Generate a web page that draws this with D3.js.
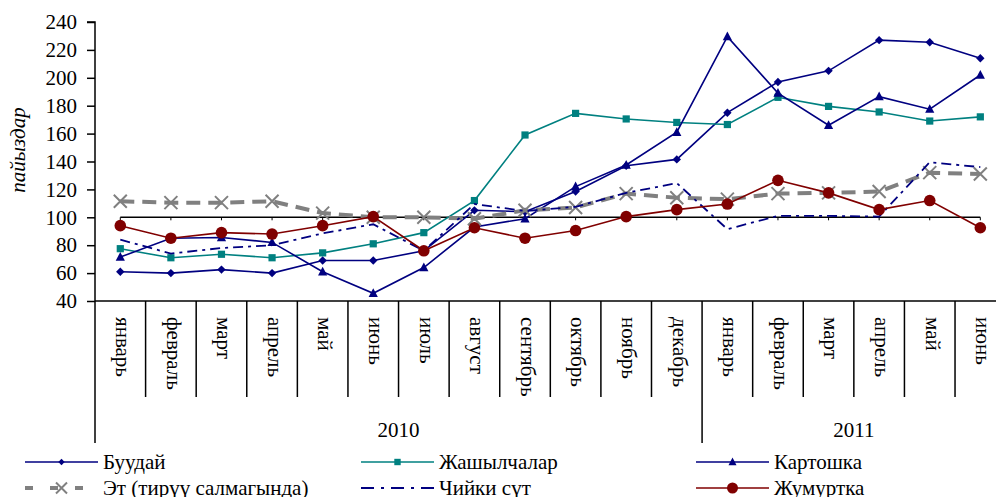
<!DOCTYPE html>
<html><head><meta charset="utf-8">
<script src="https://cdn.jsdelivr.net/npm/d3@7"></script>
<style>
html,body{margin:0;padding:0;background:#fff;}
svg{display:block;}
</style></head>
<body><svg id="c" width="996" height="497"></svg>
<script>
const months = ["январь","февраль","март","апрель","май","июнь","июль","август","сентябрь","октябрь","ноябрь","декабрь","январь","февраль","март","апрель","май","июнь"];
const years = [{label:"2010", from:0, to:12},{label:"2011", from:12, to:18}];
const yTicks = [40,60,80,100,120,140,160,180,200,220,240];

const buudai    = [61, 60, 62.5, 60, 69, 69, 76, 105, 104, 118.5, 137, 141.5, 175, 197, 205, 227, 225.5, 214];
const jashyl    = [77.5, 71, 73.5, 71, 74.5, 81, 89, 112, 159, 174.5, 170.5, 168, 166.5, 186, 179.5, 175.5, 169, 172];
const kartoshka = [71.5, 85, 85.5, 82, 61, 45.5, 64, 93, 99, 122, 137.5, 161, 229.5, 189, 166, 186.5, 177.5, 202];
const et        = [111.5, 110.5, 110.5, 111.5, 103, 100, 100, 99, 105, 107, 117, 114, 113, 117, 117.5, 118.5, 132, 131];
const chiyki    = [84, 74, 78, 80, 88.5, 95, 76, 109.5, 104.5, 107.5, 117.5, 124.5, 91.5, 101, 101, 100.5, 139.5, 136];
const jumurtka  = [94, 85, 89, 88, 94, 100.5, 76, 92.5, 85, 90.5, 100.5, 105.5, 109.5, 126.5, 117.5, 105.5, 112, 92.5];
const baseline  = 100;

const series = [
  {name:"Буудай", values:buudai, color:"#000080", width:1.6, dash:null, marker:"diamond"},
  {name:"Жашылчалар", values:jashyl, color:"#008080", width:1.6, dash:null, marker:"square"},
  {name:"Картошка", values:kartoshka, color:"#000080", width:1.6, dash:null, marker:"triangle"},
  {name:"Эт (тирүү салмагында)", values:et, color:"#808080", width:4, dash:"14,8", marker:"x"},
  {name:"Чийки сүт", values:chiyki, color:"#000080", width:1.8, dash:"10,5,3,5", marker:null},
  {name:"Жумуртка", values:jumurtka, color:"#800000", width:1.6, dash:null, marker:"circle"}
];

const FAM = "serif";
const svg = d3.select("#c");
function txt(sel){ return sel.style("font-family", FAM).style("font-size","21px"); }
const plotLeft = 95, plotTop = 22, plotBottom = 301, band = 50.59;
const x = d3.scaleBand().domain(d3.range(months.length)).range([plotLeft, plotLeft + band*months.length]).padding(0);
const y = d3.scaleLinear().domain([40,240]).range([plotBottom, plotTop]);
const cx = i => x(i) + x.bandwidth()/2;

// y axis
const ya = svg.append("g").attr("transform",`translate(${plotLeft},0)`)
  .call(d3.axisLeft(y).tickValues(yTicks).tickSize(8).tickPadding(10).tickFormat(d3.format("d")));
ya.attr("font-family",null).attr("font-size",null);
ya.select(".domain").attr("stroke","#000").attr("stroke-width",1.5).attr("d",`M-8,${plotTop}H0V${plotBottom}`);
ya.selectAll(".tick line").attr("stroke","#000").attr("stroke-width",1.5);
txt(ya.selectAll(".tick text")).attr("fill","#000");

// y label
txt(svg.append("text").attr("transform","translate(25,150) rotate(-90)"))
  .attr("text-anchor","middle").style("font-style","italic").text("пайыздар");

// bottom axis line
svg.append("line").attr("x1",plotLeft).attr("x2",996).attr("y1",plotBottom).attr("y2",plotBottom)
  .attr("stroke","#000").attr("stroke-width",1.5);

// category separators
const yearBounds = new Set(years.map(d=>d.from).concat([months.length]));
d3.range(months.length+1).forEach(i=>{
  const xx = i < months.length ? x(i) : x(months.length-1)+x.bandwidth();
  svg.append("line").attr("x1",xx).attr("x2",xx).attr("y1",plotBottom)
    .attr("y2", yearBounds.has(i) ? 443 : 397)
    .attr("stroke","#000").attr("stroke-width",1.5);
});

// category labels
txt(svg.append("g").selectAll("text").data(months).join("text")
  .attr("transform",(d,i)=>`translate(${cx(i)},317) rotate(90)`))
  .attr("dy","0.2em").text(d=>d);

// year labels
txt(svg.append("g").selectAll("text").data(years).join("text")
  .attr("x",d=>(x(d.from) + x(d.to-1)+x.bandwidth())/2).attr("y",437))
  .attr("text-anchor","middle").text(d=>d.label);

// 100 reference line
const idx = d3.range(months.length);
svg.append("line").attr("x1",cx(0)).attr("x2",cx(months.length-1))
  .attr("y1",y(baseline)).attr("y2",y(baseline)).attr("stroke","#000").attr("stroke-width",1.6);
svg.append("g").selectAll("line").data(idx).join("line")
  .attr("x1",i=>cx(i)).attr("x2",i=>cx(i)).attr("y1",y(baseline)).attr("y2",y(baseline)+3)
  .attr("stroke","#000").attr("stroke-width",1);

function drawMarker(g, type, px, py, color, s){
  if(type==="diamond"){
    g.append("path").attr("d",`M${px},${py-s}L${px+s},${py}L${px},${py+s}L${px-s},${py}Z`).attr("fill",color);
  } else if(type==="square"){
    g.append("rect").attr("x",px-s).attr("y",py-s).attr("width",2*s).attr("height",2*s).attr("fill",color);
  } else if(type==="triangle"){
    g.append("path").attr("d",`M${px},${py-s*1.1}L${px+s},${py+s*0.8}L${px-s},${py+s*0.8}Z`).attr("fill",color);
  } else if(type==="circle"){
    g.append("circle").attr("cx",px).attr("cy",py).attr("r",s).attr("fill",color);
  } else if(type==="x"){
    g.append("path").attr("d",`M${px-s},${py-s}L${px+s},${py+s}M${px+s},${py-s}L${px-s},${py+s}`)
      .attr("stroke",color).attr("stroke-width",2).attr("fill","none");
  }
}
const mSize = {diamond:4.2, square:3.6, triangle:4.6, circle:5.8, x:6.5};
const lSize = {diamond:3.2, square:3.2, triangle:4, circle:5.5, x:5.5};

const line = d3.line().x((d,i)=>cx(i)).y(d=>y(d));
series.forEach(s=>{
  const g = svg.append("g");
  g.append("path").attr("d",line(s.values)).attr("fill","none").attr("stroke",s.color)
    .attr("stroke-width",s.width).attr("stroke-dasharray",s.dash);
  if(s.marker) s.values.forEach((v,i)=>drawMarker(g,s.marker,cx(i),y(v),s.color,mSize[s.marker]));
});

// legend
const legCols = [25, 361, 696], legRows = [462, 488];
series.forEach((s,k)=>{
  const col = k%3, row = Math.floor(k/3);
  const lx = legCols[col], ly = legRows[row];
  const g = svg.append("g");
  g.append("line").attr("x1",lx).attr("x2",lx+73).attr("y1",ly).attr("y2",ly)
    .attr("stroke",s.color).attr("stroke-width",s.marker==="x"?4:(s.width)).attr("stroke-dasharray",s.marker==="x"?"8,17":(s.dash?"13,7,3,7":null));
  if(s.marker) drawMarker(g,s.marker,lx+36.5,ly,s.color,lSize[s.marker]);
  txt(g.append("text").attr("x",lx+78).attr("y",ly).attr("dy","0.33em")).text(s.name);
});
</script></body></html>
